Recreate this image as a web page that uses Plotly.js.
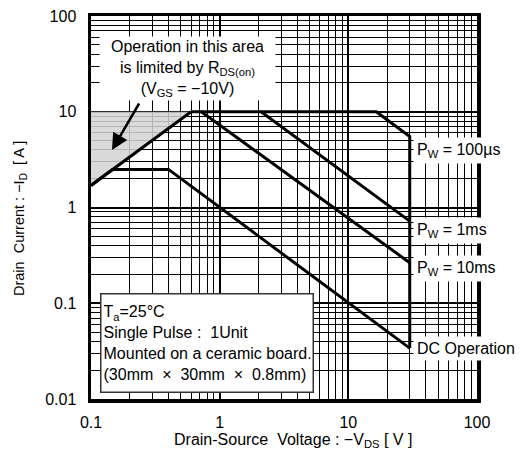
<!DOCTYPE html>
<html>
<head>
<meta charset="utf-8">
<script src="https://cdn.plot.ly/plotly-3.0.1.min.js"></script>
<style>html,body{margin:0;padding:0;background:#fff;}#chart{width:521px;height:459px;}</style>
</head>
<body>
<div id="chart"></div>
<script>
// Safe operating area data (Drain-Source voltage V, Drain current A)
var shadeV = [0.1, 0.6, 0.1];
var shadeI = [1.7, 10, 10];
var rdsV = [0.1, 0.6];
var rdsI = [1.7, 10];
var dcV = [0.1, 0.147, 0.4, 1, 10, 30];
var dcI = [1.7, 2.5, 2.5, 1.0, 0.102, 0.034];
var ms10V = [0.6, 0.72, 30];
var ms10I = [10, 10, 0.265];
var ms1V = [0.72, 2.1, 30];
var ms1I = [10, 10, 0.72];
var us100V = [2.1, 16.5, 30, 30];
var us100I = [10, 10, 5.5, 0.034];
var curveLabels = ["P<sub>W</sub> = 100µs", "P<sub>W</sub> = 1ms", "P<sub>W</sub> = 10ms", "DC Operation"];
var xTitle = "Drain-Source\u00a0 Voltage : −V<sub>DS</sub> [ V ]";
var yTitle = "Drain\u00a0 Current : −I<sub>D</sub>\u00a0 [ A ]";

var FONT = "Liberation Sans, Arial, Helvetica, sans-serif";
var line = {color: "#000", width: 3};
var traces = [
  {x: shadeV, y: shadeI, mode: "lines", fill: "toself", fillcolor: "rgba(212,212,212,0.85)", line: {width: 0}, hoverinfo: "skip", showlegend: false},
  {x: rdsV, y: rdsI, mode: "lines", line: line, showlegend: false},
  {x: dcV, y: dcI, mode: "lines", line: line, showlegend: false},
  {x: ms10V, y: ms10I, mode: "lines", line: line, showlegend: false},
  {x: ms1V, y: ms1I, mode: "lines", line: line, showlegend: false},
  {x: us100V, y: us100I, mode: "lines", line: line, showlegend: false}
];

function px(x) { return (x - 91) / 386; }
function py(y) { return (399 - y) / 383; }

var labelY = [150, 230, 268, 348];
var annotations = [
  {xref: "paper", yref: "paper", x: px(187.5), y: py(68.5), xanchor: "center", yanchor: "middle",
   text: "Operation in this area<br>is limited by R<sub>DS(on)</sub><br>(V<sub>GS</sub> = −10V)",
   showarrow: false, bgcolor: "#fff", borderpad: 0, width: 175, height: 63, align: "center",
   font: {family: FONT, size: 16, color: "#000"}},
  {xref: "paper", yref: "paper", x: px(112), y: py(150), text: "", showarrow: true,
   ax: 28, ay: -48, arrowhead: 2, arrowsize: 1.3, arrowwidth: 2.5, arrowcolor: "#000", standoff: 0},
  {xref: "paper", yref: "paper", x: px(206.5), y: py(342.5), xanchor: "center", yanchor: "middle",
   text: "T<sub>a</sub>=25°C<br>Single Pulse\u00a0:\u00a0 1Unit<br>Mounted on a ceramic board.<br>(30mm\u00a0 ×\u00a0 30mm\u00a0 ×\u00a0 0.8mm)",
   showarrow: false, bgcolor: "#fff", bordercolor: "#333", borderwidth: 1.5, borderpad: 2,
   width: 207, height: 93, align: "left", font: {family: FONT, size: 16, color: "#000"}},
  {xref: "paper", yref: "paper", x: px(293), y: py(440), xanchor: "center", yanchor: "middle",
   text: xTitle, showarrow: false, font: {family: FONT, size: 16, color: "#000"}},
  {xref: "paper", yref: "paper", x: px(20), y: py(219), xanchor: "center", yanchor: "middle",
   text: yTitle, textangle: -90, showarrow: false, font: {family: FONT, size: 14.5, color: "#000"}}
];
for (var i = 0; i < curveLabels.length; i++) {
  annotations.push({xref: "paper", yref: "paper", x: px(413), y: py(labelY[i]), xanchor: "left", yanchor: "middle",
    text: curveLabels[i], showarrow: false, bgcolor: "#fff", borderpad: 3,
    font: {family: FONT, size: 16, color: "#000"}});
}

var axisCommon = {
  type: "log", tickmode: "linear", tick0: 0, dtick: 1, ticks: "",
  showgrid: true, gridcolor: "#000", gridwidth: 2,
  minor: {dtick: "D1", showgrid: true, gridcolor: "#000", gridwidth: 1, ticks: ""},
  showline: true, linecolor: "#000", linewidth: 3.5, mirror: true, zeroline: false,
  tickfont: {family: FONT, size: 16, color: "#000"}
};

var layout = {
  width: 521, height: 459,
  margin: {l: 91, r: 44, t: 16, b: 60},
  paper_bgcolor: "#fff", plot_bgcolor: "#fff",
  font: {family: FONT, color: "#000"},
  xaxis: Object.assign({}, axisCommon, {range: [-1, 2], ticklabelstandoff: 6}),
  yaxis: Object.assign({}, axisCommon, {range: [-2, 2], ticklabelstandoff: 8}),
  annotations: annotations,
  showlegend: false
};

Plotly.newPlot("chart", traces, layout, {staticPlot: true, displayModeBar: false});
</script>
</body>
</html>
